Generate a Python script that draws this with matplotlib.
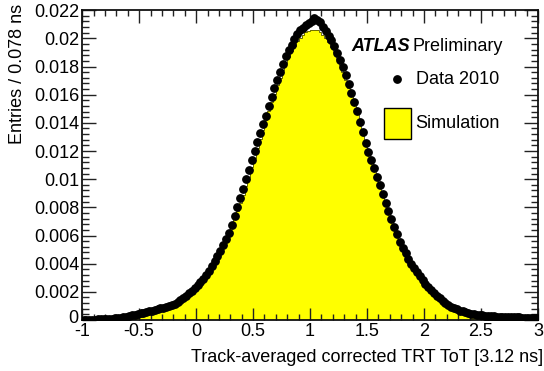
import numpy as np
import matplotlib
matplotlib.use("Agg")
import matplotlib.pyplot as plt
import matplotlib.transforms as mtransforms
from matplotlib.ticker import MultipleLocator, FixedLocator
from matplotlib.patches import Rectangle

plt.rcParams['font.family'] = ['Liberation Sans', 'DejaVu Sans']

# Binning: 160 bins from -1 to 3 (0.025 units = 0.078 ns)
bin_edges = np.linspace(-1.0, 3.0, 161)

data_2010 = [
    0.00002, 0.00002, 0.00003, 0.00003,
    0.00003, 0.00004, 0.00004, 0.00005,
    0.00007, 0.00008, 0.00010, 0.00012,
    0.00014, 0.00017, 0.00020, 0.00023,
    0.00027, 0.00032, 0.00037, 0.00042,
    0.00047, 0.00052, 0.00057, 0.00062,
    0.00067, 0.00072, 0.00077, 0.00082,
    0.00088, 0.00094, 0.00100, 0.00106,
    0.00117, 0.00131, 0.00144, 0.00158,
    0.00173, 0.00190, 0.00208, 0.00226,
    0.00247, 0.00270, 0.00294, 0.00318,
    0.00347, 0.00382, 0.00417, 0.00452,
    0.00491, 0.00534, 0.00576, 0.00619,
    0.00672, 0.00737, 0.00802, 0.00867,
    0.00933, 0.01000, 0.01068, 0.01136,
    0.01201, 0.01264, 0.01326, 0.01389,
    0.01452, 0.01517, 0.01582, 0.01647,
    0.01707, 0.01762, 0.01817, 0.01872,
    0.01918, 0.01956, 0.01993, 0.02031,
    0.02059, 0.02076, 0.02094, 0.02111,
    0.02126, 0.02142, 0.02128, 0.02115,
    0.02083, 0.02050, 0.02018, 0.01986,
    0.01945, 0.01895, 0.01845, 0.01795,
    0.01739, 0.01676, 0.01614, 0.01551,
    0.01482, 0.01407, 0.01332, 0.01257,
    0.01191, 0.01134, 0.01076, 0.01019,
    0.00959, 0.00896, 0.00834, 0.00771,
    0.00714, 0.00661, 0.00609, 0.00556,
    0.00511, 0.00474, 0.00436, 0.00399,
    0.00366, 0.00339, 0.00311, 0.00284,
    0.00259, 0.00236, 0.00214, 0.00191,
    0.00171, 0.00154, 0.00136, 0.00119,
    0.00105, 0.00095, 0.00085, 0.00075,
    0.00067, 0.00061, 0.00054, 0.00048,
    0.00044, 0.00041, 0.00038, 0.00035,
    0.00032, 0.00030, 0.00028, 0.00026,
    0.00025, 0.00024, 0.00023, 0.00022,
    0.00021, 0.00020, 0.00019, 0.00019,
    0.00018, 0.00018, 0.00017, 0.00017,
    0.00016, 0.00016, 0.00015, 0.00015,
]

simulation = [
    0.00001, 0.00002, 0.00002, 0.00002,
    0.00003, 0.00003, 0.00004, 0.00004,
    0.00005, 0.00006, 0.00008, 0.00009,
    0.00011, 0.00013, 0.00016, 0.00019,
    0.00023, 0.00027, 0.00031, 0.00036,
    0.00041, 0.00046, 0.00051, 0.00056,
    0.00061, 0.00066, 0.00071, 0.00077,
    0.00083, 0.00089, 0.00096, 0.00104,
    0.00113, 0.00124, 0.00137, 0.00151,
    0.00166, 0.00183, 0.00201, 0.00220,
    0.00241, 0.00264, 0.00289, 0.00315,
    0.00343, 0.00374, 0.00408, 0.00444,
    0.00483, 0.00525, 0.00569, 0.00615,
    0.00664, 0.00716, 0.00771, 0.00829,
    0.00890, 0.00953, 0.01018, 0.01084,
    0.01151, 0.01218, 0.01285, 0.01351,
    0.01420, 0.01484, 0.01547, 0.01608,
    0.01666, 0.01720, 0.01773, 0.01824,
    0.01870, 0.01910, 0.01946, 0.01978,
    0.02005, 0.02027, 0.02044, 0.02055,
    0.02060, 0.02061, 0.02056, 0.02045,
    0.02027, 0.02003, 0.01974, 0.01940,
    0.01901, 0.01857, 0.01810, 0.01759,
    0.01705, 0.01648, 0.01589, 0.01528,
    0.01465, 0.01401, 0.01336, 0.01271,
    0.01206, 0.01141, 0.01077, 0.01014,
    0.00952, 0.00891, 0.00832, 0.00775,
    0.00720, 0.00667, 0.00616, 0.00568,
    0.00522, 0.00479, 0.00438, 0.00400,
    0.00364, 0.00331, 0.00300, 0.00271,
    0.00244, 0.00220, 0.00197, 0.00176,
    0.00157, 0.00140, 0.00124, 0.00110,
    0.00097, 0.00086, 0.00076, 0.00067,
    0.00059, 0.00052, 0.00046, 0.00041,
    0.00036, 0.00032, 0.00028, 0.00025,
    0.00022, 0.00020, 0.00018, 0.00016,
    0.00014, 0.00013, 0.00012, 0.00011,
    0.00010, 0.00009, 0.00008, 0.00007,
    0.00007, 0.00006, 0.00006, 0.00005,
    0.00005, 0.00004, 0.00004, 0.00004,
]

x_ticks = [-1, -0.5, 0, 0.5, 1, 1.5, 2, 2.5, 3]
x_tick_labels = ["-1", "-0.5", "0", "0.5", "1", "1.5", "2", "2.5", "3"]
y_ticks = [0, 0.002, 0.004, 0.006, 0.008, 0.01, 0.012, 0.014, 0.016, 0.018, 0.02, 0.022]
y_tick_labels = ["0", "0.002", "0.004", "0.006", "0.008", "0.01", "0.012",
                 "0.014", "0.016", "0.018", "0.02", "0.022"]

FS = 13

fig = plt.figure(figsize=(5.44, 3.71), dpi=100)
ax = fig.add_axes([0.151, 0.1375, 0.838, 0.835])

centers = 0.5 * (bin_edges[:-1] + bin_edges[1:])
ax.stairs(simulation, bin_edges, fill=True, facecolor='#ffff00', edgecolor='none', zorder=1)
ax.stairs(simulation, bin_edges, fill=False, edgecolor='#555500', linewidth=0.6, zorder=2)
ax.plot(centers, data_2010, 'o', color='black', markersize=5.3, zorder=3)

ax.set_xlim(-1, 3)
ax.set_ylim(0, 0.022)
ax.xaxis.set_major_locator(FixedLocator(x_ticks))
ax.set_xticklabels(x_tick_labels)
ax.xaxis.set_minor_locator(MultipleLocator(0.1))
ax.yaxis.set_major_locator(FixedLocator(y_ticks))
ax.set_yticklabels(y_tick_labels)
ax.yaxis.set_minor_locator(MultipleLocator(0.0004))

ax.tick_params(which='both', direction='in', top=True, right=True, labelsize=FS,
               width=1.0, color='#222222')
ax.tick_params(axis='x', which='major', length=9, pad=2.5)
ax.tick_params(axis='x', which='minor', length=4.5)
ax.tick_params(axis='y', which='major', length=10, pad=2)
ax.tick_params(axis='y', which='minor', length=5)
for s in ax.spines.values():
    s.set_linewidth(1.3)
    s.set_color('#111111')

# nudge the y "0" label up slightly so it does not collide with the x "-1" label
zero_lbl = ax.get_yticklabels()[0]
zero_lbl.set_transform(zero_lbl.get_transform() +
                       mtransforms.ScaledTranslation(-1 / 100, 3 / 100, fig.dpi_scale_trans))

ax.set_xlabel("Track-averaged corrected TRT ToT [3.12 ns]", fontsize=FS, loc='right', labelpad=3)
ax.xaxis.set_label_coords(1.012, -0.095)
ax.set_ylabel("Entries / 0.078 ns", fontsize=FS, loc='top', labelpad=2)
ax.yaxis.set_label_coords(-0.124, 1.02)

# Legend-like annotations (ROOT style)
fig.text(0.646, 0.876, "ATLAS", fontsize=FS, fontweight='bold', fontstyle='italic', va='center')
fig.text(0.759, 0.876, "Preliminary", fontsize=FS, va='center')
fig.lines.append(plt.Line2D([0.730], [0.787], marker='o', color='black', markersize=5.3,
                            transform=fig.transFigure))
fig.text(0.764, 0.787, "Data 2010", fontsize=FS, va='center')
fig.patches.append(Rectangle((0.706, 0.625), 0.049, 0.084, facecolor='#ffff00',
                             edgecolor='black', linewidth=1.0, transform=fig.transFigure))
fig.text(0.764, 0.666, "Simulation", fontsize=FS, va='center')

fig.savefig("out.png", dpi=100)
